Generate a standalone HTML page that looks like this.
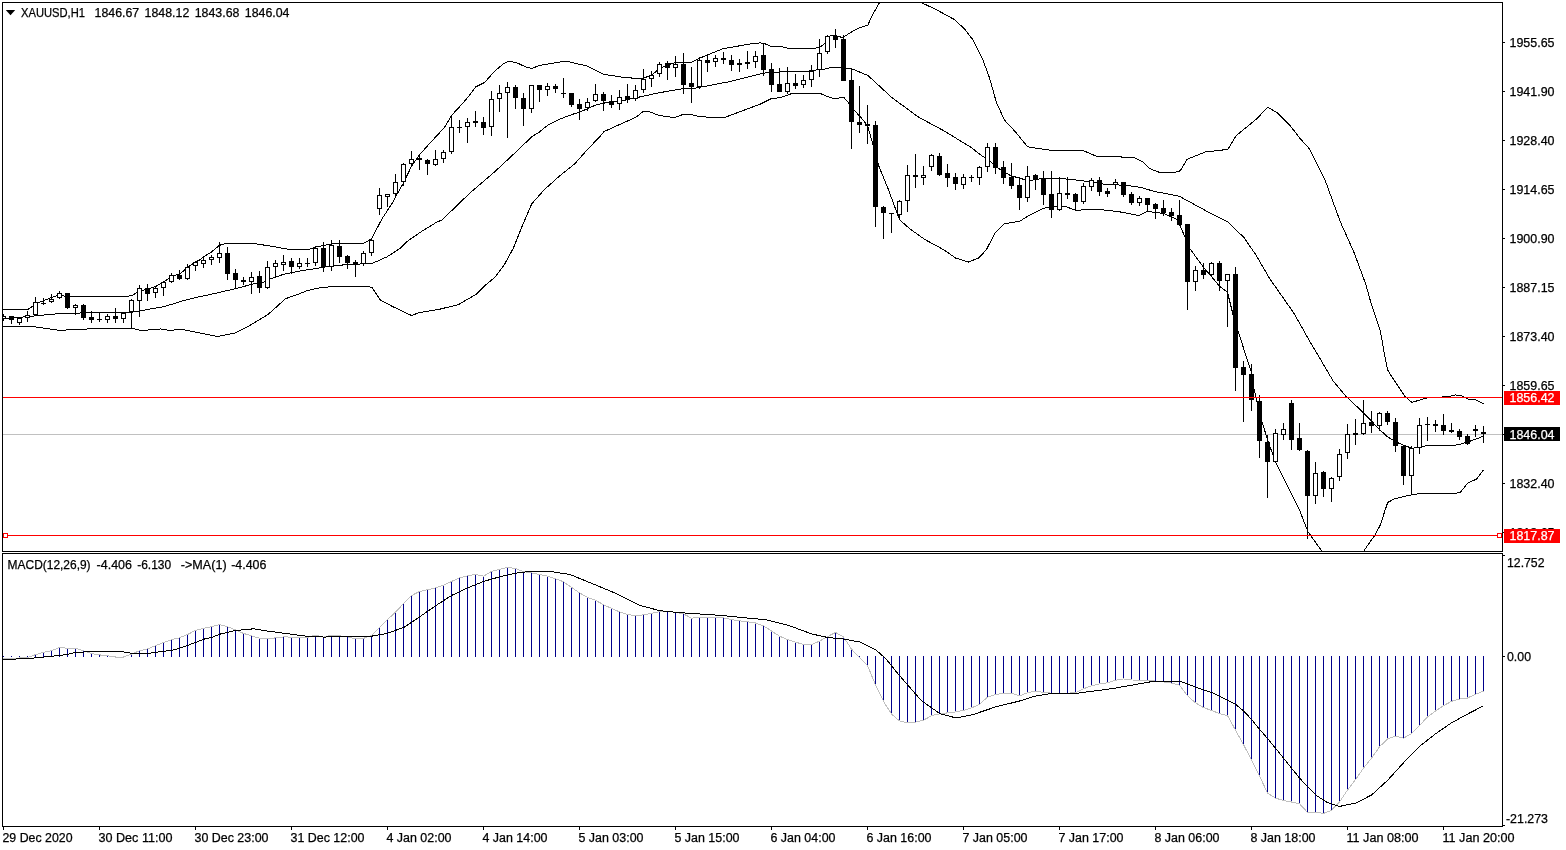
<!DOCTYPE html>
<html><head><meta charset="utf-8"><title>XAUUSD,H1</title>
<style>html,body{margin:0;padding:0;background:#fff;overflow:hidden}svg{display:block}text{font-family:"Liberation Sans", sans-serif;font-size:12.5px;fill:#000;stroke:#000;stroke-width:0.25px}</style>
</head><body>
<svg width="1566" height="850" viewBox="0 0 1566 850">
<rect x="0" y="0" width="1566" height="850" fill="#fff"/>
<defs><clipPath id="cm"><rect x="3" y="3" width="1499" height="548"/></clipPath><clipPath id="cs"><rect x="3" y="554" width="1499" height="272"/></clipPath></defs>
<g clip-path="url(#cm)">
<rect x="3" y="434" width="1499" height="1" fill="#c0c0c0" shape-rendering="crispEdges"/>
<g shape-rendering="crispEdges">
<polyline points="3.1,309.2 28.3,309.2 36.0,303.8 44.0,300.5 52.0,297.3 60.0,294.7 65.2,296.4 127.4,296.4 132.2,295.4 137.7,292.1 147.9,288.9 156.0,286.3 164.0,281.8 172.0,275.9 180.0,274.0 188.1,266.9 196.1,261.7 200.5,259.5 203.5,256.9 210.9,252.4 219.5,245.3 226.4,243.4 253.6,243.4 269.1,245.9 288.5,249.2 309.2,249.2 315.5,247.2 324.8,245.3 335.1,243.4 363.6,243.4 371.5,238.8 381.7,219.4 393.4,201.3 395.5,197.0 403.5,183.0 411.5,166.2 419.5,154.7 432.3,140.6 444.5,127.4 451.5,115.5 464.1,101.8 470.5,94.0 475.7,86.9 484.7,82.4 495.1,70.7 502.9,64.2 508.0,61.4 515.8,62.3 524.9,66.6 532.0,68.5 539.1,65.5 548.2,64.0 554.6,62.9 563.7,61.3 567.0,61.3 587.7,66.2 603.9,74.4 622.6,77.2 641.4,78.9 651.1,75.3 659.5,68.8 667.6,64.9 675.7,62.4 691.5,62.4 699.5,58.2 723.6,48.5 754.7,43.3 760.5,42.9 764.7,43.6 771.2,46.5 781.6,46.5 787.4,48.2 815.2,48.2 820.4,46.9 824.9,43.3 828.2,36.2 835.5,35.5 841.1,37.2 843.4,37.2 851.7,31.8 860.5,27.4 867.9,25.0 872.9,14.1 879.5,2.6 881.5,0.0" fill="none" stroke="#000" stroke-width="1" />
<polyline points="919.5,0.0 921.4,2.6 936.4,9.7 954.1,19.4 964.7,29.1 973.5,40.6 982.3,58.2 989.4,77.6 996.4,102.3 1004.4,120.0 1015.8,132.3 1027.3,146.5 1030.5,147.3 1048.7,150.0 1084.0,150.9 1096.4,156.2 1133.5,157.4 1142.3,161.5 1149.4,168.5 1160.0,172.6 1172.3,172.9 1180.3,170.8 1187.0,159.3 1205.2,152.0 1227.8,149.4 1236.2,135.6 1256.3,119.2 1267.9,107.1 1277.5,113.0 1289.8,125.2 1300.5,139.0 1309.1,148.4 1325.5,181.2 1340.1,221.3 1354.7,254.1 1360.3,269.4 1365.5,283.5 1370.5,301.2 1380.3,330.7 1385.5,360.0 1387.7,369.9 1391.9,376.9 1404.6,396.0 1411.9,402.4 1419.9,400.0 1427.2,397.8 1447.7,396.7 1455.4,395.0 1461.1,395.3 1468.1,399.2 1475.9,400.0 1483.5,403.8" fill="none" stroke="#000" stroke-width="1" />
<polyline points="3.1,318.7 26.4,316.7 56.2,313.9 78.2,313.5 83.3,312.4 132.2,312.2 139.9,310.9 164.9,306.4 181.7,301.2 200.5,296.4 204.4,295.8 235.5,288.7 257.5,282.8 267.6,281.5 270.4,278.9 283.3,274.4 298.9,271.2 323.5,267.3 335.1,265.4 355.8,264.3 372.7,263.2 386.9,256.9 400.5,248.1 406.4,242.0 421.7,231.3 437.0,222.0 442.0,220.0 469.4,193.5 494.1,172.3 507.4,160.0 521.0,147.1 532.6,136.1 539.1,132.2 548.2,124.8 561.1,118.6 574.1,113.8 579.5,112.2 595.5,105.1 612.3,101.2 620.0,101.2 638.2,97.3 658.9,92.8 683.5,88.6 695.1,88.2 728.8,81.8 760.5,74.0 763.4,73.1 782.9,71.8 807.5,71.8 811.3,70.2 821.7,69.8 828.2,68.1 835.9,67.2 843.7,67.6 851.7,68.8 867.9,75.5 892.3,97.9 918.8,117.3 943.5,130.6 970.5,147.0 982.1,156.0 987.5,158.6 995.5,166.0 1003.5,171.8 1011.5,176.0 1020.5,178.3 1027.6,180.9 1043.4,178.2 1068.2,179.1 1091.1,181.8 1105.2,184.4 1126.4,185.3 1140.5,187.4 1154.7,191.5 1179.4,196.2 1179.7,196.5 1205.2,210.4 1227.8,222.0 1243.9,237.5 1256.3,255.5 1269.4,278.2 1294.1,313.5 1301.1,325.9 1310.0,341.8 1320.5,359.4 1332.9,380.6 1345.9,396.2 1364.1,413.4 1379.9,429.9 1387.7,436.9 1395.9,441.9 1403.9,445.4 1411.9,448.2 1419.9,447.5 1427.2,445.4 1454.0,445.4 1462.5,443.6 1468.1,441.9 1475.9,439.1 1483.5,436.2" fill="none" stroke="#000" stroke-width="1" />
<polyline points="3.1,326.4 31.6,326.4 59.4,330.3 87.2,329.0 132.2,328.4 139.9,330.3 155.8,329.7 160.5,329.0 169.4,330.3 182.0,329.4 196.3,332.2 217.7,336.5 235.6,332.9 249.9,325.4 267.8,314.7 285.7,298.6 296.4,295.0 307.1,290.6 321.4,287.5 335.7,286.4 367.9,286.4 372.4,287.9 380.4,300.0 392.9,306.7 411.7,315.6 418.0,312.9 440.5,309.0 458.4,304.6 476.7,293.9 485.9,284.8 495.1,277.1 504.2,264.9 513.4,248.1 522.6,225.1 531.8,203.7 544.0,190.0 559.3,176.2 574.6,164.0 586.8,150.2 600.6,135.8 603.9,131.6 635.6,117.4 643.3,111.5 649.8,111.8 658.9,115.4 674.4,117.6 682.8,114.5 691.2,114.5 699.0,116.5 713.3,117.6 724.9,117.4 760.5,104.0 771.2,98.7 780.3,97.6 791.9,93.5 820.4,93.5 826.9,96.4 834.6,98.7 843.7,97.3 848.2,102.4 852.5,108.5 860.5,117.0 867.5,125.6 873.7,147.0 879.1,166.8 888.2,189.0 899.5,219.6 909.5,228.6 924.5,239.3 944.2,250.0 955.5,258.0 968.5,262.0 978.5,258.0 986.2,250.0 995.2,232.7 1004.3,223.7 1020.0,221.2 1027.6,216.2 1043.4,208.2 1052.3,206.8 1066.4,206.8 1075.6,210.3 1096.4,209.1 1119.4,211.8 1138.8,215.6 1147.6,211.4 1163.5,213.5 1177.6,219.7 1184.7,236.5 1190.0,248.8 1204.1,268.2 1211.5,276.5 1219.5,286.2 1227.5,292.4 1233.2,315.3 1239.3,334.7 1246.5,357.6 1251.7,373.5 1253.8,388.0 1260.9,418.5 1267.9,440.7 1275.5,462.0 1299.3,509.6 1308.0,531.8 1322.5,552.0" fill="none" stroke="#000" stroke-width="1" />
<polyline points="1363.1,552.0 1366.5,547.0 1375.0,535.0 1380.6,524.4 1384.8,511.0 1387.7,502.5 1394.7,498.7 1411.9,494.7 1423.0,493.3 1455.5,493.3 1460.5,492.2 1468.1,482.7 1476.5,479.2 1483.5,470.0" fill="none" stroke="#000" stroke-width="1" />
<rect x="131" y="312" width="1" height="17" fill="#000"/>
</g>
<g shape-rendering="crispEdges">
<rect x="3" y="314" width="1" height="7" fill="#000"/>
<rect x="1" y="316" width="5" height="3" fill="#000"/>
<rect x="2" y="317" width="3" height="1" fill="#fff"/>
<rect x="11" y="316" width="1" height="8" fill="#000"/>
<rect x="9" y="316" width="5" height="4" fill="#000"/>
<rect x="19" y="318" width="1" height="7" fill="#000"/>
<rect x="17" y="318" width="5" height="5" fill="#000"/>
<rect x="18" y="319" width="3" height="3" fill="#fff"/>
<rect x="27" y="311" width="1" height="11" fill="#000"/>
<rect x="25" y="315" width="5" height="3" fill="#000"/>
<rect x="26" y="316" width="3" height="1" fill="#fff"/>
<rect x="35" y="297" width="1" height="19" fill="#000"/>
<rect x="33" y="302" width="5" height="13" fill="#000"/>
<rect x="34" y="303" width="3" height="11" fill="#fff"/>
<rect x="43" y="298" width="1" height="7" fill="#000"/>
<rect x="41" y="303" width="5" height="1" fill="#000"/>
<rect x="51" y="294" width="1" height="9" fill="#000"/>
<rect x="49" y="299" width="5" height="3" fill="#000"/>
<rect x="50" y="300" width="3" height="1" fill="#fff"/>
<rect x="59" y="291" width="1" height="8" fill="#000"/>
<rect x="57" y="293" width="5" height="5" fill="#000"/>
<rect x="58" y="294" width="3" height="3" fill="#fff"/>
<rect x="67" y="293" width="1" height="16" fill="#000"/>
<rect x="65" y="293" width="5" height="15" fill="#000"/>
<rect x="75" y="304" width="1" height="11" fill="#000"/>
<rect x="73" y="305" width="5" height="3" fill="#000"/>
<rect x="74" y="306" width="3" height="1" fill="#fff"/>
<rect x="83" y="304" width="1" height="16" fill="#000"/>
<rect x="81" y="305" width="5" height="13" fill="#000"/>
<rect x="91" y="311" width="1" height="12" fill="#000"/>
<rect x="89" y="317" width="5" height="3" fill="#000"/>
<rect x="99" y="313" width="1" height="9" fill="#000"/>
<rect x="97" y="319" width="5" height="1" fill="#000"/>
<rect x="107" y="314" width="1" height="9" fill="#000"/>
<rect x="105" y="316" width="5" height="4" fill="#000"/>
<rect x="106" y="317" width="3" height="2" fill="#fff"/>
<rect x="115" y="308" width="1" height="15" fill="#000"/>
<rect x="113" y="316" width="5" height="3" fill="#000"/>
<rect x="123" y="313" width="1" height="10" fill="#000"/>
<rect x="121" y="313" width="5" height="6" fill="#000"/>
<rect x="122" y="314" width="3" height="4" fill="#fff"/>
<rect x="131" y="299" width="1" height="13" fill="#000"/>
<rect x="129" y="300" width="5" height="12" fill="#000"/>
<rect x="130" y="301" width="3" height="10" fill="#fff"/>
<rect x="139" y="285" width="1" height="32" fill="#000"/>
<rect x="137" y="288" width="5" height="13" fill="#000"/>
<rect x="138" y="289" width="3" height="11" fill="#fff"/>
<rect x="147" y="284" width="1" height="17" fill="#000"/>
<rect x="145" y="288" width="5" height="6" fill="#000"/>
<rect x="155" y="287" width="1" height="11" fill="#000"/>
<rect x="153" y="288" width="5" height="5" fill="#000"/>
<rect x="154" y="289" width="3" height="3" fill="#fff"/>
<rect x="163" y="281" width="1" height="15" fill="#000"/>
<rect x="161" y="282" width="5" height="6" fill="#000"/>
<rect x="162" y="283" width="3" height="4" fill="#fff"/>
<rect x="171" y="273" width="1" height="10" fill="#000"/>
<rect x="169" y="275" width="5" height="7" fill="#000"/>
<rect x="170" y="276" width="3" height="5" fill="#fff"/>
<rect x="179" y="270" width="1" height="10" fill="#000"/>
<rect x="177" y="275" width="5" height="4" fill="#000"/>
<rect x="187" y="264" width="1" height="16" fill="#000"/>
<rect x="185" y="267" width="5" height="12" fill="#000"/>
<rect x="186" y="268" width="3" height="10" fill="#fff"/>
<rect x="195" y="261" width="1" height="10" fill="#000"/>
<rect x="193" y="262" width="5" height="4" fill="#000"/>
<rect x="194" y="263" width="3" height="2" fill="#fff"/>
<rect x="203" y="258" width="1" height="10" fill="#000"/>
<rect x="201" y="260" width="5" height="4" fill="#000"/>
<rect x="202" y="261" width="3" height="2" fill="#fff"/>
<rect x="211" y="255" width="1" height="10" fill="#000"/>
<rect x="209" y="257" width="5" height="3" fill="#000"/>
<rect x="210" y="258" width="3" height="1" fill="#fff"/>
<rect x="219" y="242" width="1" height="21" fill="#000"/>
<rect x="217" y="253" width="5" height="5" fill="#000"/>
<rect x="218" y="254" width="3" height="3" fill="#fff"/>
<rect x="227" y="247" width="1" height="33" fill="#000"/>
<rect x="225" y="253" width="5" height="21" fill="#000"/>
<rect x="235" y="269" width="1" height="20" fill="#000"/>
<rect x="233" y="273" width="5" height="7" fill="#000"/>
<rect x="243" y="277" width="1" height="8" fill="#000"/>
<rect x="241" y="280" width="5" height="2" fill="#000"/>
<rect x="251" y="272" width="1" height="22" fill="#000"/>
<rect x="249" y="277" width="5" height="5" fill="#000"/>
<rect x="250" y="278" width="3" height="3" fill="#fff"/>
<rect x="259" y="271" width="1" height="22" fill="#000"/>
<rect x="257" y="276" width="5" height="12" fill="#000"/>
<rect x="267" y="261" width="1" height="28" fill="#000"/>
<rect x="265" y="267" width="5" height="21" fill="#000"/>
<rect x="266" y="268" width="3" height="19" fill="#fff"/>
<rect x="275" y="260" width="1" height="18" fill="#000"/>
<rect x="273" y="263" width="5" height="4" fill="#000"/>
<rect x="274" y="264" width="3" height="2" fill="#fff"/>
<rect x="283" y="255" width="1" height="16" fill="#000"/>
<rect x="281" y="262" width="5" height="3" fill="#000"/>
<rect x="282" y="263" width="3" height="1" fill="#fff"/>
<rect x="291" y="258" width="1" height="16" fill="#000"/>
<rect x="289" y="261" width="5" height="6" fill="#000"/>
<rect x="299" y="258" width="1" height="11" fill="#000"/>
<rect x="297" y="263" width="5" height="4" fill="#000"/>
<rect x="298" y="264" width="3" height="2" fill="#fff"/>
<rect x="307" y="258" width="1" height="9" fill="#000"/>
<rect x="305" y="263" width="5" height="1" fill="#000"/>
<rect x="315" y="246" width="1" height="20" fill="#000"/>
<rect x="313" y="248" width="5" height="15" fill="#000"/>
<rect x="314" y="249" width="3" height="13" fill="#fff"/>
<rect x="323" y="242" width="1" height="30" fill="#000"/>
<rect x="321" y="248" width="5" height="19" fill="#000"/>
<rect x="331" y="240" width="1" height="31" fill="#000"/>
<rect x="329" y="245" width="5" height="22" fill="#000"/>
<rect x="330" y="246" width="3" height="20" fill="#fff"/>
<rect x="339" y="240" width="1" height="23" fill="#000"/>
<rect x="337" y="246" width="5" height="11" fill="#000"/>
<rect x="347" y="255" width="1" height="14" fill="#000"/>
<rect x="345" y="256" width="5" height="7" fill="#000"/>
<rect x="355" y="260" width="1" height="17" fill="#000"/>
<rect x="353" y="262" width="5" height="3" fill="#000"/>
<rect x="363" y="251" width="1" height="15" fill="#000"/>
<rect x="361" y="253" width="5" height="11" fill="#000"/>
<rect x="362" y="254" width="3" height="9" fill="#fff"/>
<rect x="371" y="239" width="1" height="17" fill="#000"/>
<rect x="369" y="240" width="5" height="13" fill="#000"/>
<rect x="370" y="241" width="3" height="11" fill="#fff"/>
<rect x="379" y="188" width="1" height="27" fill="#000"/>
<rect x="377" y="195" width="5" height="14" fill="#000"/>
<rect x="378" y="196" width="3" height="12" fill="#fff"/>
<rect x="387" y="194" width="1" height="13" fill="#000"/>
<rect x="385" y="194" width="5" height="3" fill="#000"/>
<rect x="386" y="195" width="3" height="1" fill="#fff"/>
<rect x="395" y="174" width="1" height="24" fill="#000"/>
<rect x="393" y="182" width="5" height="12" fill="#000"/>
<rect x="394" y="183" width="3" height="10" fill="#fff"/>
<rect x="403" y="163" width="1" height="23" fill="#000"/>
<rect x="401" y="164" width="5" height="18" fill="#000"/>
<rect x="402" y="165" width="3" height="16" fill="#fff"/>
<rect x="411" y="151" width="1" height="15" fill="#000"/>
<rect x="409" y="159" width="5" height="5" fill="#000"/>
<rect x="410" y="160" width="3" height="3" fill="#fff"/>
<rect x="419" y="156" width="1" height="14" fill="#000"/>
<rect x="417" y="158" width="5" height="2" fill="#000"/>
<rect x="427" y="159" width="1" height="16" fill="#000"/>
<rect x="425" y="160" width="5" height="4" fill="#000"/>
<rect x="435" y="150" width="1" height="16" fill="#000"/>
<rect x="433" y="159" width="5" height="6" fill="#000"/>
<rect x="434" y="160" width="3" height="4" fill="#fff"/>
<rect x="443" y="150" width="1" height="13" fill="#000"/>
<rect x="441" y="152" width="5" height="7" fill="#000"/>
<rect x="442" y="153" width="3" height="5" fill="#fff"/>
<rect x="451" y="116" width="1" height="38" fill="#000"/>
<rect x="449" y="127" width="5" height="25" fill="#000"/>
<rect x="450" y="128" width="3" height="23" fill="#fff"/>
<rect x="459" y="120" width="1" height="13" fill="#000"/>
<rect x="457" y="127" width="5" height="1" fill="#000"/>
<rect x="467" y="118" width="1" height="25" fill="#000"/>
<rect x="465" y="122" width="5" height="5" fill="#000"/>
<rect x="466" y="123" width="3" height="3" fill="#fff"/>
<rect x="475" y="111" width="1" height="16" fill="#000"/>
<rect x="473" y="121" width="5" height="2" fill="#000"/>
<rect x="483" y="117" width="1" height="18" fill="#000"/>
<rect x="481" y="122" width="5" height="6" fill="#000"/>
<rect x="491" y="91" width="1" height="45" fill="#000"/>
<rect x="489" y="99" width="5" height="28" fill="#000"/>
<rect x="490" y="100" width="3" height="26" fill="#fff"/>
<rect x="499" y="85" width="1" height="27" fill="#000"/>
<rect x="497" y="93" width="5" height="6" fill="#000"/>
<rect x="498" y="94" width="3" height="4" fill="#fff"/>
<rect x="507" y="82" width="1" height="56" fill="#000"/>
<rect x="505" y="87" width="5" height="6" fill="#000"/>
<rect x="506" y="88" width="3" height="4" fill="#fff"/>
<rect x="515" y="85" width="1" height="24" fill="#000"/>
<rect x="513" y="87" width="5" height="11" fill="#000"/>
<rect x="523" y="93" width="1" height="33" fill="#000"/>
<rect x="521" y="98" width="5" height="11" fill="#000"/>
<rect x="531" y="85" width="1" height="28" fill="#000"/>
<rect x="529" y="85" width="5" height="24" fill="#000"/>
<rect x="530" y="86" width="3" height="22" fill="#fff"/>
<rect x="539" y="85" width="1" height="17" fill="#000"/>
<rect x="537" y="85" width="5" height="5" fill="#000"/>
<rect x="547" y="83" width="1" height="13" fill="#000"/>
<rect x="545" y="86" width="5" height="4" fill="#000"/>
<rect x="546" y="87" width="3" height="2" fill="#fff"/>
<rect x="555" y="84" width="1" height="9" fill="#000"/>
<rect x="553" y="86" width="5" height="3" fill="#000"/>
<rect x="563" y="78" width="1" height="20" fill="#000"/>
<rect x="561" y="93" width="5" height="1" fill="#000"/>
<rect x="571" y="93" width="1" height="14" fill="#000"/>
<rect x="569" y="93" width="5" height="12" fill="#000"/>
<rect x="579" y="99" width="1" height="21" fill="#000"/>
<rect x="577" y="104" width="5" height="5" fill="#000"/>
<rect x="587" y="98" width="1" height="13" fill="#000"/>
<rect x="585" y="102" width="5" height="6" fill="#000"/>
<rect x="586" y="103" width="3" height="4" fill="#fff"/>
<rect x="595" y="84" width="1" height="18" fill="#000"/>
<rect x="593" y="94" width="5" height="7" fill="#000"/>
<rect x="594" y="95" width="3" height="5" fill="#fff"/>
<rect x="603" y="92" width="1" height="19" fill="#000"/>
<rect x="601" y="94" width="5" height="7" fill="#000"/>
<rect x="611" y="95" width="1" height="13" fill="#000"/>
<rect x="609" y="101" width="5" height="4" fill="#000"/>
<rect x="619" y="90" width="1" height="20" fill="#000"/>
<rect x="617" y="97" width="5" height="7" fill="#000"/>
<rect x="618" y="98" width="3" height="5" fill="#fff"/>
<rect x="627" y="84" width="1" height="19" fill="#000"/>
<rect x="625" y="96" width="5" height="4" fill="#000"/>
<rect x="635" y="85" width="1" height="16" fill="#000"/>
<rect x="633" y="90" width="5" height="9" fill="#000"/>
<rect x="634" y="91" width="3" height="7" fill="#fff"/>
<rect x="643" y="69" width="1" height="24" fill="#000"/>
<rect x="641" y="79" width="5" height="11" fill="#000"/>
<rect x="642" y="80" width="3" height="9" fill="#fff"/>
<rect x="651" y="71" width="1" height="16" fill="#000"/>
<rect x="649" y="75" width="5" height="4" fill="#000"/>
<rect x="650" y="76" width="3" height="2" fill="#fff"/>
<rect x="659" y="62" width="1" height="15" fill="#000"/>
<rect x="657" y="64" width="5" height="10" fill="#000"/>
<rect x="658" y="65" width="3" height="8" fill="#fff"/>
<rect x="667" y="61" width="1" height="19" fill="#000"/>
<rect x="665" y="63" width="5" height="5" fill="#000"/>
<rect x="675" y="56" width="1" height="21" fill="#000"/>
<rect x="673" y="64" width="5" height="4" fill="#000"/>
<rect x="674" y="65" width="3" height="2" fill="#fff"/>
<rect x="683" y="53" width="1" height="41" fill="#000"/>
<rect x="681" y="64" width="5" height="21" fill="#000"/>
<rect x="691" y="67" width="1" height="36" fill="#000"/>
<rect x="689" y="83" width="5" height="4" fill="#000"/>
<rect x="699" y="57" width="1" height="32" fill="#000"/>
<rect x="697" y="60" width="5" height="27" fill="#000"/>
<rect x="698" y="61" width="3" height="25" fill="#fff"/>
<rect x="707" y="55" width="1" height="17" fill="#000"/>
<rect x="705" y="60" width="5" height="3" fill="#000"/>
<rect x="715" y="55" width="1" height="12" fill="#000"/>
<rect x="713" y="58" width="5" height="4" fill="#000"/>
<rect x="714" y="59" width="3" height="2" fill="#fff"/>
<rect x="723" y="52" width="1" height="12" fill="#000"/>
<rect x="721" y="58" width="5" height="2" fill="#000"/>
<rect x="731" y="55" width="1" height="16" fill="#000"/>
<rect x="729" y="60" width="5" height="5" fill="#000"/>
<rect x="739" y="59" width="1" height="13" fill="#000"/>
<rect x="737" y="63" width="5" height="2" fill="#000"/>
<rect x="747" y="51" width="1" height="18" fill="#000"/>
<rect x="745" y="62" width="5" height="2" fill="#000"/>
<rect x="755" y="51" width="1" height="17" fill="#000"/>
<rect x="753" y="56" width="5" height="6" fill="#000"/>
<rect x="754" y="57" width="3" height="4" fill="#fff"/>
<rect x="763" y="43" width="1" height="33" fill="#000"/>
<rect x="761" y="55" width="5" height="15" fill="#000"/>
<rect x="771" y="63" width="1" height="29" fill="#000"/>
<rect x="769" y="69" width="5" height="16" fill="#000"/>
<rect x="779" y="68" width="1" height="24" fill="#000"/>
<rect x="777" y="84" width="5" height="8" fill="#000"/>
<rect x="787" y="67" width="1" height="27" fill="#000"/>
<rect x="785" y="83" width="5" height="9" fill="#000"/>
<rect x="786" y="84" width="3" height="7" fill="#fff"/>
<rect x="795" y="74" width="1" height="15" fill="#000"/>
<rect x="793" y="83" width="5" height="3" fill="#000"/>
<rect x="803" y="75" width="1" height="13" fill="#000"/>
<rect x="801" y="80" width="5" height="5" fill="#000"/>
<rect x="802" y="81" width="3" height="3" fill="#fff"/>
<rect x="811" y="65" width="1" height="22" fill="#000"/>
<rect x="809" y="71" width="5" height="9" fill="#000"/>
<rect x="810" y="72" width="3" height="7" fill="#fff"/>
<rect x="819" y="39" width="1" height="38" fill="#000"/>
<rect x="817" y="53" width="5" height="17" fill="#000"/>
<rect x="818" y="54" width="3" height="15" fill="#fff"/>
<rect x="827" y="35" width="1" height="19" fill="#000"/>
<rect x="825" y="36" width="5" height="16" fill="#000"/>
<rect x="826" y="37" width="3" height="14" fill="#fff"/>
<rect x="835" y="29" width="1" height="19" fill="#000"/>
<rect x="833" y="36" width="5" height="4" fill="#000"/>
<rect x="843" y="35" width="1" height="46" fill="#000"/>
<rect x="841" y="39" width="5" height="42" fill="#000"/>
<rect x="851" y="68" width="1" height="81" fill="#000"/>
<rect x="849" y="80" width="5" height="42" fill="#000"/>
<rect x="859" y="86" width="1" height="47" fill="#000"/>
<rect x="857" y="122" width="5" height="3" fill="#000"/>
<rect x="867" y="105" width="1" height="39" fill="#000"/>
<rect x="865" y="124" width="5" height="2" fill="#000"/>
<rect x="875" y="121" width="1" height="106" fill="#000"/>
<rect x="873" y="125" width="5" height="82" fill="#000"/>
<rect x="883" y="206" width="1" height="33" fill="#000"/>
<rect x="881" y="207" width="5" height="6" fill="#000"/>
<rect x="891" y="213" width="1" height="20" fill="#000"/>
<rect x="889" y="213" width="5" height="1" fill="#000"/>
<rect x="899" y="200" width="1" height="20" fill="#000"/>
<rect x="897" y="201" width="5" height="14" fill="#000"/>
<rect x="898" y="202" width="3" height="12" fill="#fff"/>
<rect x="907" y="165" width="1" height="47" fill="#000"/>
<rect x="905" y="175" width="5" height="26" fill="#000"/>
<rect x="906" y="176" width="3" height="24" fill="#fff"/>
<rect x="915" y="154" width="1" height="34" fill="#000"/>
<rect x="913" y="175" width="5" height="2" fill="#000"/>
<rect x="923" y="166" width="1" height="19" fill="#000"/>
<rect x="921" y="175" width="5" height="3" fill="#000"/>
<rect x="922" y="176" width="3" height="1" fill="#fff"/>
<rect x="931" y="154" width="1" height="17" fill="#000"/>
<rect x="929" y="155" width="5" height="12" fill="#000"/>
<rect x="930" y="156" width="3" height="10" fill="#fff"/>
<rect x="939" y="153" width="1" height="23" fill="#000"/>
<rect x="937" y="156" width="5" height="19" fill="#000"/>
<rect x="947" y="164" width="1" height="23" fill="#000"/>
<rect x="945" y="173" width="5" height="5" fill="#000"/>
<rect x="955" y="173" width="1" height="17" fill="#000"/>
<rect x="953" y="177" width="5" height="7" fill="#000"/>
<rect x="963" y="174" width="1" height="15" fill="#000"/>
<rect x="961" y="177" width="5" height="8" fill="#000"/>
<rect x="962" y="178" width="3" height="6" fill="#fff"/>
<rect x="971" y="175" width="1" height="7" fill="#000"/>
<rect x="969" y="177" width="5" height="1" fill="#000"/>
<rect x="979" y="166" width="1" height="19" fill="#000"/>
<rect x="977" y="167" width="5" height="11" fill="#000"/>
<rect x="978" y="168" width="3" height="9" fill="#fff"/>
<rect x="987" y="143" width="1" height="29" fill="#000"/>
<rect x="985" y="147" width="5" height="20" fill="#000"/>
<rect x="986" y="148" width="3" height="18" fill="#fff"/>
<rect x="995" y="143" width="1" height="31" fill="#000"/>
<rect x="993" y="147" width="5" height="21" fill="#000"/>
<rect x="1003" y="161" width="1" height="23" fill="#000"/>
<rect x="1001" y="167" width="5" height="11" fill="#000"/>
<rect x="1011" y="163" width="1" height="26" fill="#000"/>
<rect x="1009" y="177" width="5" height="9" fill="#000"/>
<rect x="1019" y="177" width="1" height="33" fill="#000"/>
<rect x="1017" y="185" width="5" height="13" fill="#000"/>
<rect x="1027" y="166" width="1" height="36" fill="#000"/>
<rect x="1025" y="176" width="5" height="22" fill="#000"/>
<rect x="1026" y="177" width="3" height="20" fill="#fff"/>
<rect x="1035" y="174" width="1" height="16" fill="#000"/>
<rect x="1033" y="175" width="5" height="4" fill="#000"/>
<rect x="1043" y="171" width="1" height="34" fill="#000"/>
<rect x="1041" y="178" width="5" height="17" fill="#000"/>
<rect x="1051" y="171" width="1" height="47" fill="#000"/>
<rect x="1049" y="194" width="5" height="16" fill="#000"/>
<rect x="1059" y="177" width="1" height="34" fill="#000"/>
<rect x="1057" y="193" width="5" height="17" fill="#000"/>
<rect x="1058" y="194" width="3" height="15" fill="#fff"/>
<rect x="1067" y="177" width="1" height="22" fill="#000"/>
<rect x="1065" y="193" width="5" height="2" fill="#000"/>
<rect x="1075" y="193" width="1" height="17" fill="#000"/>
<rect x="1073" y="194" width="5" height="8" fill="#000"/>
<rect x="1083" y="183" width="1" height="21" fill="#000"/>
<rect x="1081" y="186" width="5" height="16" fill="#000"/>
<rect x="1082" y="187" width="3" height="14" fill="#fff"/>
<rect x="1091" y="178" width="1" height="13" fill="#000"/>
<rect x="1089" y="180" width="5" height="7" fill="#000"/>
<rect x="1090" y="181" width="3" height="5" fill="#fff"/>
<rect x="1099" y="177" width="1" height="19" fill="#000"/>
<rect x="1097" y="180" width="5" height="12" fill="#000"/>
<rect x="1107" y="188" width="1" height="9" fill="#000"/>
<rect x="1105" y="191" width="5" height="3" fill="#000"/>
<rect x="1115" y="179" width="1" height="10" fill="#000"/>
<rect x="1113" y="182" width="5" height="3" fill="#000"/>
<rect x="1114" y="183" width="3" height="1" fill="#fff"/>
<rect x="1123" y="182" width="1" height="15" fill="#000"/>
<rect x="1121" y="182" width="5" height="13" fill="#000"/>
<rect x="1131" y="192" width="1" height="13" fill="#000"/>
<rect x="1129" y="194" width="5" height="9" fill="#000"/>
<rect x="1139" y="196" width="1" height="10" fill="#000"/>
<rect x="1137" y="198" width="5" height="5" fill="#000"/>
<rect x="1138" y="199" width="3" height="3" fill="#fff"/>
<rect x="1147" y="198" width="1" height="13" fill="#000"/>
<rect x="1145" y="198" width="5" height="7" fill="#000"/>
<rect x="1155" y="203" width="1" height="16" fill="#000"/>
<rect x="1153" y="204" width="5" height="5" fill="#000"/>
<rect x="1163" y="200" width="1" height="16" fill="#000"/>
<rect x="1161" y="208" width="5" height="5" fill="#000"/>
<rect x="1171" y="208" width="1" height="13" fill="#000"/>
<rect x="1169" y="212" width="5" height="4" fill="#000"/>
<rect x="1179" y="200" width="1" height="26" fill="#000"/>
<rect x="1177" y="215" width="5" height="10" fill="#000"/>
<rect x="1187" y="224" width="1" height="86" fill="#000"/>
<rect x="1185" y="224" width="5" height="58" fill="#000"/>
<rect x="1195" y="266" width="1" height="25" fill="#000"/>
<rect x="1193" y="270" width="5" height="12" fill="#000"/>
<rect x="1194" y="271" width="3" height="10" fill="#fff"/>
<rect x="1203" y="263" width="1" height="16" fill="#000"/>
<rect x="1201" y="270" width="5" height="5" fill="#000"/>
<rect x="1211" y="262" width="1" height="14" fill="#000"/>
<rect x="1209" y="263" width="5" height="12" fill="#000"/>
<rect x="1210" y="264" width="3" height="10" fill="#fff"/>
<rect x="1219" y="261" width="1" height="30" fill="#000"/>
<rect x="1217" y="263" width="5" height="18" fill="#000"/>
<rect x="1227" y="274" width="1" height="53" fill="#000"/>
<rect x="1225" y="274" width="5" height="7" fill="#000"/>
<rect x="1226" y="275" width="3" height="5" fill="#fff"/>
<rect x="1235" y="267" width="1" height="124" fill="#000"/>
<rect x="1233" y="274" width="5" height="94" fill="#000"/>
<rect x="1243" y="361" width="1" height="61" fill="#000"/>
<rect x="1241" y="367" width="5" height="8" fill="#000"/>
<rect x="1251" y="364" width="1" height="47" fill="#000"/>
<rect x="1249" y="374" width="5" height="26" fill="#000"/>
<rect x="1259" y="395" width="1" height="63" fill="#000"/>
<rect x="1257" y="401" width="5" height="40" fill="#000"/>
<rect x="1267" y="435" width="1" height="63" fill="#000"/>
<rect x="1265" y="442" width="5" height="20" fill="#000"/>
<rect x="1275" y="429" width="1" height="33" fill="#000"/>
<rect x="1273" y="433" width="5" height="29" fill="#000"/>
<rect x="1274" y="434" width="3" height="27" fill="#fff"/>
<rect x="1283" y="423" width="1" height="17" fill="#000"/>
<rect x="1281" y="429" width="5" height="6" fill="#000"/>
<rect x="1282" y="430" width="3" height="4" fill="#fff"/>
<rect x="1291" y="400" width="1" height="50" fill="#000"/>
<rect x="1289" y="403" width="5" height="37" fill="#000"/>
<rect x="1299" y="423" width="1" height="28" fill="#000"/>
<rect x="1297" y="438" width="5" height="12" fill="#000"/>
<rect x="1307" y="450" width="1" height="89" fill="#000"/>
<rect x="1305" y="451" width="5" height="45" fill="#000"/>
<rect x="1315" y="462" width="1" height="42" fill="#000"/>
<rect x="1313" y="473" width="5" height="23" fill="#000"/>
<rect x="1314" y="474" width="3" height="21" fill="#fff"/>
<rect x="1323" y="471" width="1" height="26" fill="#000"/>
<rect x="1321" y="472" width="5" height="17" fill="#000"/>
<rect x="1331" y="477" width="1" height="25" fill="#000"/>
<rect x="1329" y="478" width="5" height="11" fill="#000"/>
<rect x="1330" y="479" width="3" height="9" fill="#fff"/>
<rect x="1339" y="449" width="1" height="32" fill="#000"/>
<rect x="1337" y="454" width="5" height="23" fill="#000"/>
<rect x="1338" y="455" width="3" height="21" fill="#fff"/>
<rect x="1347" y="424" width="1" height="35" fill="#000"/>
<rect x="1345" y="434" width="5" height="19" fill="#000"/>
<rect x="1346" y="435" width="3" height="17" fill="#fff"/>
<rect x="1355" y="419" width="1" height="26" fill="#000"/>
<rect x="1353" y="433" width="5" height="2" fill="#000"/>
<rect x="1363" y="400" width="1" height="35" fill="#000"/>
<rect x="1361" y="423" width="5" height="11" fill="#000"/>
<rect x="1362" y="424" width="3" height="9" fill="#fff"/>
<rect x="1371" y="411" width="1" height="22" fill="#000"/>
<rect x="1369" y="422" width="5" height="4" fill="#000"/>
<rect x="1379" y="412" width="1" height="19" fill="#000"/>
<rect x="1377" y="413" width="5" height="13" fill="#000"/>
<rect x="1378" y="414" width="3" height="11" fill="#fff"/>
<rect x="1387" y="411" width="1" height="14" fill="#000"/>
<rect x="1385" y="413" width="5" height="9" fill="#000"/>
<rect x="1395" y="418" width="1" height="34" fill="#000"/>
<rect x="1393" y="422" width="5" height="24" fill="#000"/>
<rect x="1403" y="446" width="1" height="39" fill="#000"/>
<rect x="1401" y="446" width="5" height="30" fill="#000"/>
<rect x="1411" y="446" width="1" height="49" fill="#000"/>
<rect x="1409" y="448" width="5" height="28" fill="#000"/>
<rect x="1410" y="449" width="3" height="26" fill="#fff"/>
<rect x="1419" y="418" width="1" height="36" fill="#000"/>
<rect x="1417" y="425" width="5" height="23" fill="#000"/>
<rect x="1418" y="426" width="3" height="21" fill="#fff"/>
<rect x="1427" y="417" width="1" height="24" fill="#000"/>
<rect x="1425" y="424" width="5" height="1" fill="#000"/>
<rect x="1435" y="420" width="1" height="12" fill="#000"/>
<rect x="1433" y="424" width="5" height="2" fill="#000"/>
<rect x="1443" y="414" width="1" height="21" fill="#000"/>
<rect x="1441" y="425" width="5" height="6" fill="#000"/>
<rect x="1451" y="423" width="1" height="10" fill="#000"/>
<rect x="1449" y="430" width="5" height="2" fill="#000"/>
<rect x="1459" y="429" width="1" height="11" fill="#000"/>
<rect x="1457" y="431" width="5" height="6" fill="#000"/>
<rect x="1467" y="434" width="1" height="11" fill="#000"/>
<rect x="1465" y="436" width="5" height="8" fill="#000"/>
<rect x="1475" y="425" width="1" height="12" fill="#000"/>
<rect x="1473" y="429" width="5" height="2" fill="#000"/>
<rect x="1483" y="426" width="1" height="17" fill="#000"/>
<rect x="1481" y="432" width="5" height="2" fill="#000"/>
</g>
<g shape-rendering="crispEdges">
<rect x="3" y="397" width="1499" height="1" fill="#f00"/>
<rect x="3" y="535" width="1499" height="1" fill="#f00"/>
<rect x="3.5" y="533.5" width="4" height="4" fill="#fff" stroke="#f00" stroke-width="1"/>
<rect x="1497.5" y="533.5" width="4" height="4" fill="#fff" stroke="#f00" stroke-width="1"/>
</g>
</g>
<g clip-path="url(#cs)">
<g shape-rendering="crispEdges">
<rect x="3" y="656" width="1" height="1" fill="#00008b"/>
<rect x="11" y="656" width="1" height="1" fill="#00008b"/>
<rect x="19" y="656" width="1" height="1" fill="#00008b"/>
<rect x="27" y="656" width="1" height="1" fill="#00008b"/>
<rect x="35" y="655" width="1" height="2" fill="#00008b"/>
<rect x="43" y="652" width="1" height="5" fill="#00008b"/>
<rect x="51" y="651" width="1" height="6" fill="#00008b"/>
<rect x="59" y="647" width="1" height="10" fill="#00008b"/>
<rect x="67" y="648" width="1" height="9" fill="#00008b"/>
<rect x="75" y="648" width="1" height="9" fill="#00008b"/>
<rect x="83" y="651" width="1" height="6" fill="#00008b"/>
<rect x="91" y="654" width="1" height="3" fill="#00008b"/>
<rect x="99" y="655" width="1" height="2" fill="#00008b"/>
<rect x="107" y="656" width="1" height="1" fill="#00008b"/>
<rect x="131" y="654" width="1" height="3" fill="#00008b"/>
<rect x="139" y="651" width="1" height="6" fill="#00008b"/>
<rect x="147" y="649" width="1" height="8" fill="#00008b"/>
<rect x="155" y="646" width="1" height="11" fill="#00008b"/>
<rect x="163" y="642" width="1" height="15" fill="#00008b"/>
<rect x="171" y="640" width="1" height="17" fill="#00008b"/>
<rect x="179" y="638" width="1" height="19" fill="#00008b"/>
<rect x="187" y="635" width="1" height="22" fill="#00008b"/>
<rect x="195" y="630" width="1" height="27" fill="#00008b"/>
<rect x="203" y="628" width="1" height="29" fill="#00008b"/>
<rect x="211" y="627" width="1" height="30" fill="#00008b"/>
<rect x="219" y="625" width="1" height="32" fill="#00008b"/>
<rect x="227" y="627" width="1" height="30" fill="#00008b"/>
<rect x="235" y="630" width="1" height="27" fill="#00008b"/>
<rect x="243" y="633" width="1" height="24" fill="#00008b"/>
<rect x="251" y="636" width="1" height="21" fill="#00008b"/>
<rect x="259" y="638" width="1" height="19" fill="#00008b"/>
<rect x="267" y="639" width="1" height="18" fill="#00008b"/>
<rect x="275" y="638" width="1" height="19" fill="#00008b"/>
<rect x="283" y="637" width="1" height="20" fill="#00008b"/>
<rect x="291" y="637" width="1" height="20" fill="#00008b"/>
<rect x="299" y="637" width="1" height="20" fill="#00008b"/>
<rect x="307" y="637" width="1" height="20" fill="#00008b"/>
<rect x="315" y="635" width="1" height="22" fill="#00008b"/>
<rect x="323" y="637" width="1" height="20" fill="#00008b"/>
<rect x="331" y="635" width="1" height="22" fill="#00008b"/>
<rect x="339" y="636" width="1" height="21" fill="#00008b"/>
<rect x="347" y="637" width="1" height="20" fill="#00008b"/>
<rect x="355" y="639" width="1" height="18" fill="#00008b"/>
<rect x="363" y="638" width="1" height="19" fill="#00008b"/>
<rect x="371" y="635" width="1" height="22" fill="#00008b"/>
<rect x="379" y="628" width="1" height="29" fill="#00008b"/>
<rect x="387" y="620" width="1" height="37" fill="#00008b"/>
<rect x="395" y="612" width="1" height="45" fill="#00008b"/>
<rect x="403" y="604" width="1" height="53" fill="#00008b"/>
<rect x="411" y="596" width="1" height="61" fill="#00008b"/>
<rect x="419" y="592" width="1" height="65" fill="#00008b"/>
<rect x="427" y="590" width="1" height="67" fill="#00008b"/>
<rect x="435" y="588" width="1" height="69" fill="#00008b"/>
<rect x="443" y="585" width="1" height="72" fill="#00008b"/>
<rect x="451" y="581" width="1" height="76" fill="#00008b"/>
<rect x="459" y="578" width="1" height="79" fill="#00008b"/>
<rect x="467" y="576" width="1" height="81" fill="#00008b"/>
<rect x="475" y="574" width="1" height="83" fill="#00008b"/>
<rect x="483" y="576" width="1" height="81" fill="#00008b"/>
<rect x="491" y="572" width="1" height="85" fill="#00008b"/>
<rect x="499" y="569" width="1" height="88" fill="#00008b"/>
<rect x="507" y="567" width="1" height="90" fill="#00008b"/>
<rect x="515" y="569" width="1" height="88" fill="#00008b"/>
<rect x="523" y="572" width="1" height="85" fill="#00008b"/>
<rect x="531" y="573" width="1" height="84" fill="#00008b"/>
<rect x="539" y="574" width="1" height="83" fill="#00008b"/>
<rect x="547" y="576" width="1" height="81" fill="#00008b"/>
<rect x="555" y="579" width="1" height="78" fill="#00008b"/>
<rect x="563" y="582" width="1" height="75" fill="#00008b"/>
<rect x="571" y="587" width="1" height="70" fill="#00008b"/>
<rect x="579" y="593" width="1" height="64" fill="#00008b"/>
<rect x="587" y="597" width="1" height="60" fill="#00008b"/>
<rect x="595" y="600" width="1" height="57" fill="#00008b"/>
<rect x="603" y="605" width="1" height="52" fill="#00008b"/>
<rect x="611" y="608" width="1" height="49" fill="#00008b"/>
<rect x="619" y="612" width="1" height="45" fill="#00008b"/>
<rect x="627" y="614" width="1" height="43" fill="#00008b"/>
<rect x="635" y="616" width="1" height="41" fill="#00008b"/>
<rect x="643" y="615" width="1" height="42" fill="#00008b"/>
<rect x="651" y="613" width="1" height="44" fill="#00008b"/>
<rect x="659" y="612" width="1" height="45" fill="#00008b"/>
<rect x="667" y="611" width="1" height="46" fill="#00008b"/>
<rect x="675" y="612" width="1" height="45" fill="#00008b"/>
<rect x="683" y="614" width="1" height="43" fill="#00008b"/>
<rect x="691" y="618" width="1" height="39" fill="#00008b"/>
<rect x="699" y="617" width="1" height="40" fill="#00008b"/>
<rect x="707" y="617" width="1" height="40" fill="#00008b"/>
<rect x="715" y="617" width="1" height="40" fill="#00008b"/>
<rect x="723" y="618" width="1" height="39" fill="#00008b"/>
<rect x="731" y="620" width="1" height="37" fill="#00008b"/>
<rect x="739" y="621" width="1" height="36" fill="#00008b"/>
<rect x="747" y="622" width="1" height="35" fill="#00008b"/>
<rect x="755" y="623" width="1" height="34" fill="#00008b"/>
<rect x="763" y="626" width="1" height="31" fill="#00008b"/>
<rect x="771" y="631" width="1" height="26" fill="#00008b"/>
<rect x="779" y="636" width="1" height="21" fill="#00008b"/>
<rect x="787" y="639" width="1" height="18" fill="#00008b"/>
<rect x="795" y="642" width="1" height="15" fill="#00008b"/>
<rect x="803" y="644" width="1" height="13" fill="#00008b"/>
<rect x="811" y="645" width="1" height="12" fill="#00008b"/>
<rect x="819" y="641" width="1" height="16" fill="#00008b"/>
<rect x="827" y="637" width="1" height="20" fill="#00008b"/>
<rect x="835" y="632" width="1" height="25" fill="#00008b"/>
<rect x="843" y="637" width="1" height="20" fill="#00008b"/>
<rect x="851" y="649" width="1" height="8" fill="#00008b"/>
<rect x="859" y="656" width="1" height="2" fill="#00008b"/>
<rect x="867" y="656" width="1" height="9" fill="#00008b"/>
<rect x="875" y="656" width="1" height="29" fill="#00008b"/>
<rect x="883" y="656" width="1" height="45" fill="#00008b"/>
<rect x="891" y="656" width="1" height="58" fill="#00008b"/>
<rect x="899" y="656" width="1" height="65" fill="#00008b"/>
<rect x="907" y="656" width="1" height="67" fill="#00008b"/>
<rect x="915" y="656" width="1" height="66" fill="#00008b"/>
<rect x="923" y="656" width="1" height="64" fill="#00008b"/>
<rect x="931" y="656" width="1" height="60" fill="#00008b"/>
<rect x="939" y="656" width="1" height="58" fill="#00008b"/>
<rect x="947" y="656" width="1" height="57" fill="#00008b"/>
<rect x="955" y="656" width="1" height="56" fill="#00008b"/>
<rect x="963" y="656" width="1" height="54" fill="#00008b"/>
<rect x="971" y="656" width="1" height="52" fill="#00008b"/>
<rect x="979" y="656" width="1" height="48" fill="#00008b"/>
<rect x="987" y="656" width="1" height="41" fill="#00008b"/>
<rect x="995" y="656" width="1" height="39" fill="#00008b"/>
<rect x="1003" y="656" width="1" height="37" fill="#00008b"/>
<rect x="1011" y="656" width="1" height="37" fill="#00008b"/>
<rect x="1019" y="656" width="1" height="40" fill="#00008b"/>
<rect x="1027" y="656" width="1" height="37" fill="#00008b"/>
<rect x="1035" y="656" width="1" height="35" fill="#00008b"/>
<rect x="1043" y="656" width="1" height="36" fill="#00008b"/>
<rect x="1051" y="656" width="1" height="37" fill="#00008b"/>
<rect x="1059" y="656" width="1" height="37" fill="#00008b"/>
<rect x="1067" y="656" width="1" height="37" fill="#00008b"/>
<rect x="1075" y="656" width="1" height="37" fill="#00008b"/>
<rect x="1083" y="656" width="1" height="33" fill="#00008b"/>
<rect x="1091" y="656" width="1" height="30" fill="#00008b"/>
<rect x="1099" y="656" width="1" height="28" fill="#00008b"/>
<rect x="1107" y="656" width="1" height="27" fill="#00008b"/>
<rect x="1115" y="656" width="1" height="24" fill="#00008b"/>
<rect x="1123" y="656" width="1" height="23" fill="#00008b"/>
<rect x="1131" y="656" width="1" height="24" fill="#00008b"/>
<rect x="1139" y="656" width="1" height="24" fill="#00008b"/>
<rect x="1147" y="656" width="1" height="24" fill="#00008b"/>
<rect x="1155" y="656" width="1" height="25" fill="#00008b"/>
<rect x="1163" y="656" width="1" height="26" fill="#00008b"/>
<rect x="1171" y="656" width="1" height="27" fill="#00008b"/>
<rect x="1179" y="656" width="1" height="29" fill="#00008b"/>
<rect x="1187" y="656" width="1" height="40" fill="#00008b"/>
<rect x="1195" y="656" width="1" height="47" fill="#00008b"/>
<rect x="1203" y="656" width="1" height="52" fill="#00008b"/>
<rect x="1211" y="656" width="1" height="54" fill="#00008b"/>
<rect x="1219" y="656" width="1" height="58" fill="#00008b"/>
<rect x="1227" y="656" width="1" height="59" fill="#00008b"/>
<rect x="1235" y="656" width="1" height="74" fill="#00008b"/>
<rect x="1243" y="656" width="1" height="89" fill="#00008b"/>
<rect x="1251" y="656" width="1" height="104" fill="#00008b"/>
<rect x="1259" y="656" width="1" height="120" fill="#00008b"/>
<rect x="1267" y="656" width="1" height="137" fill="#00008b"/>
<rect x="1275" y="656" width="1" height="142" fill="#00008b"/>
<rect x="1283" y="656" width="1" height="144" fill="#00008b"/>
<rect x="1291" y="656" width="1" height="146" fill="#00008b"/>
<rect x="1299" y="656" width="1" height="148" fill="#00008b"/>
<rect x="1307" y="656" width="1" height="156" fill="#00008b"/>
<rect x="1315" y="656" width="1" height="156" fill="#00008b"/>
<rect x="1323" y="656" width="1" height="157" fill="#00008b"/>
<rect x="1331" y="656" width="1" height="154" fill="#00008b"/>
<rect x="1339" y="656" width="1" height="146" fill="#00008b"/>
<rect x="1347" y="656" width="1" height="134" fill="#00008b"/>
<rect x="1355" y="656" width="1" height="124" fill="#00008b"/>
<rect x="1363" y="656" width="1" height="112" fill="#00008b"/>
<rect x="1371" y="656" width="1" height="102" fill="#00008b"/>
<rect x="1379" y="656" width="1" height="91" fill="#00008b"/>
<rect x="1387" y="656" width="1" height="83" fill="#00008b"/>
<rect x="1395" y="656" width="1" height="80" fill="#00008b"/>
<rect x="1403" y="656" width="1" height="82" fill="#00008b"/>
<rect x="1411" y="656" width="1" height="78" fill="#00008b"/>
<rect x="1419" y="656" width="1" height="69" fill="#00008b"/>
<rect x="1427" y="656" width="1" height="61" fill="#00008b"/>
<rect x="1435" y="656" width="1" height="55" fill="#00008b"/>
<rect x="1443" y="656" width="1" height="50" fill="#00008b"/>
<rect x="1451" y="656" width="1" height="45" fill="#00008b"/>
<rect x="1459" y="656" width="1" height="43" fill="#00008b"/>
<rect x="1467" y="656" width="1" height="42" fill="#00008b"/>
<rect x="1475" y="656" width="1" height="38" fill="#00008b"/>
<rect x="1483" y="656" width="1" height="35" fill="#00008b"/>
<polyline points="3.5,658.5 11.5,658.3 19.5,658.0 27.5,657.6 35.5,654.6 43.5,652.4 51.5,650.8 59.5,647.5 67.5,648.3 75.5,648.3 83.5,650.8 91.5,653.6 99.5,654.9 107.5,655.8 115.5,657.0 123.5,657.0 131.5,654.1 139.5,650.8 147.5,648.8 155.5,645.8 163.5,642.5 171.5,639.7 179.5,637.8 187.5,634.5 195.5,630.4 203.5,628.4 211.5,626.7 219.5,624.6 227.5,626.7 235.5,630.0 243.5,633.4 251.5,635.8 259.5,638.3 267.5,638.8 275.5,637.9 283.5,636.9 291.5,637.1 299.5,637.3 307.5,637.4 315.5,635.1 323.5,637.2 331.5,635.3 339.5,635.8 347.5,636.8 355.5,638.8 363.5,638.4 371.5,635.3 379.5,627.6 387.5,619.6 395.5,612.1 403.5,603.6 411.5,595.6 419.5,591.5 427.5,589.7 435.5,587.9 443.5,585.2 451.5,581.5 459.5,577.8 467.5,575.8 475.5,574.5 483.5,576.2 491.5,571.5 499.5,569.4 507.5,567.5 515.5,568.5 523.5,571.7 531.5,572.9 539.5,574.4 547.5,576.1 555.5,578.7 563.5,581.8 571.5,587.4 579.5,592.9 587.5,597.3 595.5,600.3 603.5,604.7 611.5,608.4 619.5,611.9 627.5,614.4 635.5,615.8 643.5,614.8 651.5,613.4 659.5,611.6 667.5,611.5 675.5,612.2 683.5,613.9 691.5,618.2 699.5,617.4 707.5,617.4 715.5,617.4 723.5,617.9 731.5,619.6 739.5,620.9 747.5,621.7 755.5,623.0 763.5,625.9 771.5,631.0 779.5,636.2 787.5,639.5 795.5,642.1 803.5,644.5 811.5,644.7 819.5,641.1 827.5,636.6 835.5,632.5 843.5,636.9 851.5,649.1 859.5,657.8 867.5,665.4 875.5,685.0 883.5,701.4 891.5,714.0 899.5,720.9 907.5,723.0 915.5,722.2 923.5,720.2 931.5,715.7 939.5,713.8 947.5,712.9 955.5,712.0 963.5,710.4 971.5,707.9 979.5,704.4 987.5,697.1 995.5,694.6 1003.5,693.3 1011.5,693.2 1019.5,695.9 1027.5,692.8 1035.5,691.1 1043.5,692.5 1051.5,693.1 1059.5,693.2 1067.5,693.2 1075.5,692.6 1083.5,688.8 1091.5,685.7 1099.5,683.9 1107.5,682.8 1115.5,680.2 1123.5,679.0 1131.5,680.0 1139.5,680.1 1147.5,680.1 1155.5,681.1 1163.5,682.0 1171.5,683.1 1179.5,685.2 1187.5,695.8 1195.5,702.9 1203.5,707.6 1211.5,710.4 1219.5,713.6 1227.5,715.5 1235.5,730.1 1243.5,744.6 1251.5,760.0 1259.5,775.7 1267.5,793.2 1275.5,798.1 1283.5,800.5 1291.5,802.0 1299.5,803.7 1307.5,812.3 1315.5,812.3 1323.5,813.4 1331.5,810.3 1339.5,802.0 1347.5,790.0 1355.5,779.7 1363.5,768.1 1371.5,758.2 1379.5,746.8 1387.5,738.9 1395.5,736.3 1403.5,738.1 1411.5,733.7 1419.5,725.4 1427.5,717.1 1435.5,711.1 1443.5,705.7 1451.5,701.3 1459.5,699.1 1467.5,698.0 1475.5,694.3 1483.5,691.0" fill="none" stroke="#c0c0c0" stroke-width="1" />
<polyline points="3.5,659.6 30.4,658.3 48.6,656.6 66.9,654.6 75.2,652.4 83.5,652.1 88.5,651.3 120.0,651.3 131.5,653.3 148.3,653.3 171.5,650.3 179.5,648.3 195.6,642.5 203.6,639.2 211.5,637.5 219.7,634.2 235.6,630.4 251.5,629.2 252.0,628.6 268.6,631.2 291.6,634.2 306.9,636.3 324.8,637.1 332.5,636.3 370.8,636.3 386.1,633.7 404.0,627.4 419.3,617.1 435.9,605.6 451.7,595.4 467.8,587.8 483.7,581.4 499.8,576.8 515.9,573.2 529.1,571.4 549.6,571.4 570.0,574.5 593.0,583.9 616.0,593.4 636.4,603.9 640.7,605.6 659.9,610.7 681.6,612.8 719.9,615.3 745.4,617.9 765.9,619.7 788.9,625.5 811.9,634.0 827.7,637.5 843.8,639.1 860.4,642.1 875.7,649.8 885.9,658.7 896.1,671.5 908.2,685.6 921.7,700.9 940.1,713.7 956.2,718.0 972.0,714.9 996.0,706.8 1020.0,700.9 1033.6,696.5 1052.2,693.2 1077.4,693.2 1112.4,688.6 1151.8,681.6 1160.6,681.2 1180.3,681.2 1195.6,687.1 1211.8,692.5 1235.0,703.9 1243.8,711.1 1251.9,719.9 1260.0,729.8 1267.6,738.5 1283.6,758.2 1299.8,778.4 1315.7,795.0 1327.1,802.4 1339.6,806.4 1355.6,803.1 1371.6,795.0 1387.8,780.1 1403.7,762.6 1419.7,746.2 1435.7,733.7 1451.7,722.7 1467.7,714.0 1483.0,706.1" fill="none" stroke="#000" stroke-width="1" />
</g>
</g>
<g shape-rendering="crispEdges" fill="#000">
<rect x="2" y="2" width="1501" height="1"/>
<rect x="2" y="2" width="1" height="550"/>
<rect x="2" y="551" width="1501" height="1"/>
<rect x="2" y="553" width="1501" height="1"/>
<rect x="2" y="553" width="1" height="274"/>
<rect x="2" y="826" width="1501" height="1"/>
<rect x="1502" y="2" width="1" height="550"/>
<rect x="1502" y="553" width="1" height="274"/>
<rect x="1503" y="42" width="2" height="1"/>
<rect x="1503" y="91" width="2" height="1"/>
<rect x="1503" y="140" width="2" height="1"/>
<rect x="1503" y="189" width="2" height="1"/>
<rect x="1503" y="238" width="2" height="1"/>
<rect x="1503" y="287" width="2" height="1"/>
<rect x="1503" y="336" width="2" height="1"/>
<rect x="1503" y="385" width="2" height="1"/>
<rect x="1503" y="434" width="2" height="1"/>
<rect x="1503" y="483" width="2" height="1"/>
<rect x="1503" y="532" width="2" height="1"/>
<rect x="1503" y="555" width="2" height="1"/>
<rect x="1503" y="656" width="2" height="1"/>
<rect x="1503" y="825" width="2" height="1"/>
<rect x="3" y="827" width="1" height="3"/>
<rect x="99" y="827" width="1" height="3"/>
<rect x="195" y="827" width="1" height="3"/>
<rect x="291" y="827" width="1" height="3"/>
<rect x="387" y="827" width="1" height="3"/>
<rect x="483" y="827" width="1" height="3"/>
<rect x="579" y="827" width="1" height="3"/>
<rect x="675" y="827" width="1" height="3"/>
<rect x="771" y="827" width="1" height="3"/>
<rect x="867" y="827" width="1" height="3"/>
<rect x="963" y="827" width="1" height="3"/>
<rect x="1059" y="827" width="1" height="3"/>
<rect x="1155" y="827" width="1" height="3"/>
<rect x="1251" y="827" width="1" height="3"/>
<rect x="1347" y="827" width="1" height="3"/>
<rect x="1443" y="827" width="1" height="3"/>
</g>
<text x="1509.5" y="46.7" textLength="45" lengthAdjust="spacingAndGlyphs" xml:space="preserve">1955.65</text>
<text x="1509.5" y="95.7" textLength="45" lengthAdjust="spacingAndGlyphs" xml:space="preserve">1941.90</text>
<text x="1509.5" y="144.7" textLength="45" lengthAdjust="spacingAndGlyphs" xml:space="preserve">1928.40</text>
<text x="1509.5" y="193.7" textLength="45" lengthAdjust="spacingAndGlyphs" xml:space="preserve">1914.65</text>
<text x="1509.5" y="242.7" textLength="45" lengthAdjust="spacingAndGlyphs" xml:space="preserve">1900.90</text>
<text x="1509.5" y="291.7" textLength="45" lengthAdjust="spacingAndGlyphs" xml:space="preserve">1887.15</text>
<text x="1509.5" y="340.7" textLength="45" lengthAdjust="spacingAndGlyphs" xml:space="preserve">1873.40</text>
<text x="1509.5" y="389.7" textLength="45" lengthAdjust="spacingAndGlyphs" xml:space="preserve">1859.65</text>
<text x="1509.5" y="438.7" textLength="45" lengthAdjust="spacingAndGlyphs" xml:space="preserve">1845.90</text>
<text x="1509.5" y="487.7" textLength="45" lengthAdjust="spacingAndGlyphs" xml:space="preserve">1832.40</text>
<text x="1509.5" y="536.7" textLength="45" lengthAdjust="spacingAndGlyphs" xml:space="preserve">1818.65</text>
<rect x="1504" y="391" width="56" height="14" fill="#f00" shape-rendering="crispEdges"/>
<text x="1509.5" y="402" textLength="45" lengthAdjust="spacingAndGlyphs" style="fill:#fff;stroke:#fff" xml:space="preserve">1856.42</text>
<rect x="1504" y="427" width="56" height="14" fill="#000" shape-rendering="crispEdges"/>
<text x="1509.5" y="439" textLength="45" lengthAdjust="spacingAndGlyphs" style="fill:#fff;stroke:#fff" xml:space="preserve">1846.04</text>
<rect x="1504" y="529" width="56" height="14" fill="#f00" shape-rendering="crispEdges"/>
<text x="1509.5" y="540.3" textLength="45" lengthAdjust="spacingAndGlyphs" style="fill:#fff;stroke:#fff" xml:space="preserve">1817.87</text>
<text x="1507" y="567" textLength="37.5" lengthAdjust="spacingAndGlyphs" xml:space="preserve">12.752</text>
<text x="1507" y="660.5" textLength="24" lengthAdjust="spacingAndGlyphs" xml:space="preserve">0.00</text>
<text x="1506" y="822.5" textLength="42" lengthAdjust="spacingAndGlyphs" xml:space="preserve">-21.273</text>
<path d="M5.8,10 L15.2,10 L10.5,15.2 Z" fill="#000"/>
<text x="21" y="17" textLength="64" lengthAdjust="spacingAndGlyphs" xml:space="preserve">XAUUSD,H1</text>
<text x="94.5" y="17" textLength="44.7" lengthAdjust="spacingAndGlyphs" xml:space="preserve">1846.67</text>
<text x="144.6" y="17" textLength="44.7" lengthAdjust="spacingAndGlyphs" xml:space="preserve">1848.12</text>
<text x="194.7" y="17" textLength="44.7" lengthAdjust="spacingAndGlyphs" xml:space="preserve">1843.68</text>
<text x="244.8" y="17" textLength="44.7" lengthAdjust="spacingAndGlyphs" xml:space="preserve">1846.04</text>
<text x="7.6" y="569" textLength="83" lengthAdjust="spacingAndGlyphs" xml:space="preserve">MACD(12,26,9)</text>
<text x="96.6" y="569" textLength="35.4" lengthAdjust="spacingAndGlyphs" xml:space="preserve">-4.406</text>
<text x="137.2" y="569" textLength="34" lengthAdjust="spacingAndGlyphs" xml:space="preserve">-6.130</text>
<text x="180.8" y="569" textLength="45.8" lengthAdjust="spacingAndGlyphs" xml:space="preserve">-&gt;MA(1)</text>
<text x="231.2" y="569" textLength="35.2" lengthAdjust="spacingAndGlyphs" xml:space="preserve">-4.406</text>
<text x="2.5" y="841.5" textLength="70" lengthAdjust="spacingAndGlyphs" xml:space="preserve">29 Dec 2020</text>
<text x="98.5" y="841.5" textLength="74" lengthAdjust="spacingAndGlyphs" xml:space="preserve">30 Dec 11:00</text>
<text x="194.5" y="841.5" textLength="74" lengthAdjust="spacingAndGlyphs" xml:space="preserve">30 Dec 23:00</text>
<text x="290.5" y="841.5" textLength="74" lengthAdjust="spacingAndGlyphs" xml:space="preserve">31 Dec 12:00</text>
<text x="386.5" y="841.5" textLength="65" lengthAdjust="spacingAndGlyphs" xml:space="preserve">4 Jan 02:00</text>
<text x="482.5" y="841.5" textLength="65" lengthAdjust="spacingAndGlyphs" xml:space="preserve">4 Jan 14:00</text>
<text x="578.5" y="841.5" textLength="65" lengthAdjust="spacingAndGlyphs" xml:space="preserve">5 Jan 03:00</text>
<text x="674.5" y="841.5" textLength="65" lengthAdjust="spacingAndGlyphs" xml:space="preserve">5 Jan 15:00</text>
<text x="770.5" y="841.5" textLength="65" lengthAdjust="spacingAndGlyphs" xml:space="preserve">6 Jan 04:00</text>
<text x="866.5" y="841.5" textLength="65" lengthAdjust="spacingAndGlyphs" xml:space="preserve">6 Jan 16:00</text>
<text x="962.5" y="841.5" textLength="65" lengthAdjust="spacingAndGlyphs" xml:space="preserve">7 Jan 05:00</text>
<text x="1058.5" y="841.5" textLength="65" lengthAdjust="spacingAndGlyphs" xml:space="preserve">7 Jan 17:00</text>
<text x="1154.5" y="841.5" textLength="65" lengthAdjust="spacingAndGlyphs" xml:space="preserve">8 Jan 06:00</text>
<text x="1250.5" y="841.5" textLength="65" lengthAdjust="spacingAndGlyphs" xml:space="preserve">8 Jan 18:00</text>
<text x="1346.5" y="841.5" textLength="72" lengthAdjust="spacingAndGlyphs" xml:space="preserve">11 Jan 08:00</text>
<text x="1442.5" y="841.5" textLength="72" lengthAdjust="spacingAndGlyphs" xml:space="preserve">11 Jan 20:00</text>
</svg></body></html>
